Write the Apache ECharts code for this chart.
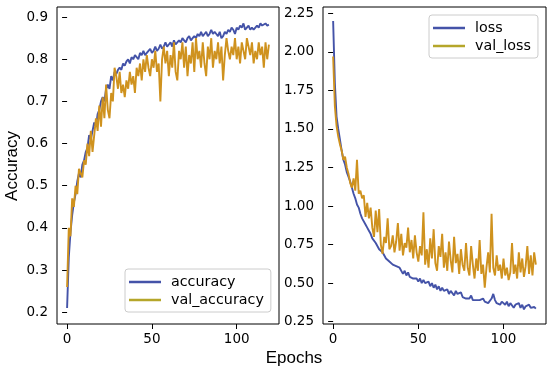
<!DOCTYPE html>
<html>
<head>
<meta charset="utf-8">
<script src="https://cdn.jsdelivr.net/npm/echarts@6/dist/echarts.min.js"></script>
<style>
html,body{margin:0;padding:0;background:#fff;}
#chart{width:550px;height:373px;}
</style>
</head>
<body>
<div id="chart"></div>
<script>
var accuracy = [0.21,0.33,0.39,0.43,0.46,0.48,0.51,0.53,0.52,0.55,0.56,0.58,0.59,0.62,0.61,0.63,0.65,0.64,0.67,0.68,
0.70,0.71,0.70,0.73,0.74,0.73,0.76,0.75,0.77,0.765,0.775,0.78,0.775,0.79,0.785,0.795,0.80,0.79,0.805,0.80,
0.81,0.805,0.80,0.815,0.81,0.82,0.81,0.815,0.82,0.825,0.815,0.82,0.83,0.82,0.825,0.835,0.825,0.83,0.84,0.83,
0.835,0.84,0.83,0.845,0.835,0.84,0.845,0.84,0.85,0.845,0.84,0.85,0.855,0.845,0.85,0.855,0.85,0.86,0.855,0.865,
0.855,0.86,0.865,0.855,0.86,0.87,0.86,0.865,0.86,0.855,0.865,0.85,0.855,0.865,0.86,0.87,0.865,0.875,0.87,0.86,
0.875,0.87,0.88,0.875,0.885,0.87,0.875,0.88,0.87,0.875,0.87,0.875,0.88,0.875,0.885,0.88,0.88,0.885,0.88,0.882];
var valAccuracy = [0.26,0.40,0.38,0.47,0.45,0.50,0.48,0.54,0.53,0.52,0.56,0.55,0.60,0.57,0.63,0.58,0.62,0.66,0.63,0.69,
0.64,0.71,0.66,0.74,0.68,0.66,0.72,0.70,0.78,0.76,0.73,0.77,0.72,0.74,0.71,0.75,0.73,0.77,0.74,0.76,
0.72,0.78,0.76,0.79,0.75,0.80,0.77,0.81,0.78,0.76,0.80,0.78,0.82,0.77,0.79,0.70,0.80,0.83,0.79,0.82,
0.76,0.81,0.78,0.84,0.77,0.75,0.82,0.80,0.84,0.78,0.83,0.76,0.81,0.79,0.84,0.77,0.85,0.80,0.82,0.78,
0.84,0.79,0.76,0.83,0.80,0.85,0.78,0.82,0.80,0.84,0.79,0.83,0.75,0.81,0.85,0.82,0.80,0.83,0.81,0.85,
0.80,0.83,0.79,0.84,0.82,0.80,0.85,0.83,0.81,0.84,0.79,0.82,0.80,0.84,0.81,0.83,0.78,0.84,0.80,0.835];
var loss = [2.20,1.80,1.58,1.50,1.43,1.36,1.30,1.27,1.22,1.19,1.16,1.12,1.08,1.05,1.01,0.99,0.95,0.92,0.91,0.88,
0.86,0.84,0.82,0.79,0.78,0.76,0.75,0.72,0.71,0.70,0.69,0.66,0.67,0.64,0.65,0.62,0.63,0.61,0.62,0.60,
0.59,0.56,0.58,0.55,0.57,0.54,0.55,0.53,0.52,0.53,0.51,0.53,0.50,0.52,0.50,0.49,0.51,0.48,0.50,0.47,
0.49,0.46,0.48,0.45,0.47,0.45,0.44,0.46,0.43,0.45,0.44,0.42,0.45,0.43,0.42,0.44,0.41,0.42,0.40,0.41,
0.40,0.42,0.39,0.40,0.39,0.38,0.39,0.38,0.40,0.38,0.39,0.37,0.38,0.40,0.43,0.39,0.37,0.38,0.36,0.38,
0.37,0.36,0.38,0.35,0.37,0.36,0.34,0.36,0.35,0.37,0.34,0.36,0.33,0.35,0.34,0.36,0.34,0.35,0.345,0.335];
var valLoss = [1.97,1.65,1.52,1.45,1.40,1.36,1.30,1.32,1.25,1.21,1.15,1.12,1.18,1.10,1.30,1.08,1.10,1.05,1.07,0.93,
1.02,0.92,0.99,0.86,0.80,0.97,0.83,0.98,0.75,0.69,0.80,0.76,0.92,0.72,0.74,0.81,0.70,0.77,0.89,0.71,
0.82,0.68,0.76,0.73,0.86,0.70,0.78,0.66,0.81,0.70,0.64,0.74,0.68,0.96,0.62,0.72,0.60,0.79,0.66,0.85,
0.63,0.58,0.74,0.67,0.82,0.60,0.70,0.58,0.77,0.65,0.57,0.80,0.63,0.69,0.56,0.72,0.62,0.58,0.76,0.60,
0.55,0.74,0.62,0.53,0.66,0.58,0.78,0.56,0.62,0.47,0.60,0.70,0.57,0.95,0.60,0.55,0.68,0.58,0.62,0.53,
0.66,0.55,0.60,0.52,0.57,0.76,0.56,0.62,0.53,0.70,0.57,0.66,0.54,0.61,0.74,0.56,0.68,0.55,0.70,0.62];
var xTicks = [0, 50, 100];
var accTicks = [0.2, 0.3, 0.4, 0.5, 0.6, 0.7, 0.8, 0.9];
var lossTicks = [0.25, 0.5, 0.75, 1.0, 1.25, 1.5, 1.75, 2.0, 2.25];
var epochs = accuracy.map(function (_, i) { return i; });

function pairs(arr) { return arr.map(function (v, i) { return [epochs[i], v]; }); }

var FONT = 'DejaVu Sans';
var BLUE = '#4453a8';
var GOLD = '#cf921e';
var LEG_GOLD = '#b5a62a';

function xAxis(idx) {
  return {
    type: 'value', gridIndex: idx, min: -5.95, max: 124.95,
    splitLine: { show: false },
    axisLine: { show: false },
    axisTick: { show: true, length: 5, lineStyle: { color: '#000' }, customValues: xTicks },
    axisLabel: { customValues: xTicks, color: '#000', fontFamily: FONT, fontSize: 13.5, margin: 8 }
  };
}
function yAxis(idx, min, max, ticks, dec) {
  return {
    type: 'value', gridIndex: idx, min: min, max: max,
    splitLine: { show: false },
    axisLine: { show: false },
    axisTick: { show: true, length: 5, lineStyle: { color: '#000' }, customValues: ticks },
    axisLabel: { customValues: ticks, color: '#000', fontFamily: FONT, fontSize: 13.5, margin: 9,
      formatter: function (v) { return v.toFixed(dec); } }
  };
}
function legend(names, left, top) {
  return {
    orient: 'vertical', left: left, top: top,
    data: [
      { name: names[0], itemStyle: { color: BLUE } },
      { name: names[1], itemStyle: { color: LEG_GOLD } }
    ],
    icon: 'rect', itemWidth: 32, itemHeight: 2.5, itemGap: 4,
    padding: [6, 7, 5, 4],
    borderColor: '#cccccc', borderWidth: 1, borderRadius: 3,
    backgroundColor: 'rgba(255,255,255,0.85)',
    textStyle: { fontFamily: FONT, fontSize: 14.3, color: '#000', padding: [0, 0, 0, 5] }
  };
}
function line(name, data, xi, color) {
  return {
    name: name, type: 'line', xAxisIndex: xi, yAxisIndex: xi,
    data: pairs(data), showSymbol: false, symbol: 'none',
    lineStyle: { width: 1.9, color: color }, itemStyle: { color: color },
    z: name.indexOf('val') === 0 ? 3 : 2
  };
}

var chart = echarts.init(document.getElementById('chart'), null, { renderer: 'canvas' });
chart.setOption({
  animation: false,
  backgroundColor: '#fff',
  grid: [
    { left: 57, top: 7, width: 222, height: 317, show: true, borderColor: '#000', borderWidth: 1, backgroundColor: 'transparent' },
    { left: 323, top: 7, width: 223, height: 317, show: true, borderColor: '#000', borderWidth: 1, backgroundColor: 'transparent' }
  ],
  xAxis: [xAxis(0), xAxis(1)],
  yAxis: [yAxis(0, 0.172, 0.924, accTicks, 1), yAxis(1, 0.235, 2.291, lossTicks, 2)],
  legend: [legend(['accuracy', 'val_accuracy'], 125, 269), legend(['loss', 'val_loss'], 429, 15)],
  series: [
    line('accuracy', accuracy, 0, BLUE),
    line('val_accuracy', valAccuracy, 0, GOLD),
    line('loss', loss, 1, BLUE),
    line('val_loss', valLoss, 1, GOLD)
  ],
  graphic: [
    { type: 'text', x: 12, y: 166, rotation: Math.PI / 2,
      style: { text: 'Accuracy', font: '17px "Liberation Sans"', fill: '#000', align: 'center', verticalAlign: 'middle' } },
    { type: 'text', x: 294, y: 358,
      style: { text: 'Epochs', font: '17px "Liberation Sans"', fill: '#000', align: 'center', verticalAlign: 'middle' } }
  ]
});
</script>
</body>
</html>
